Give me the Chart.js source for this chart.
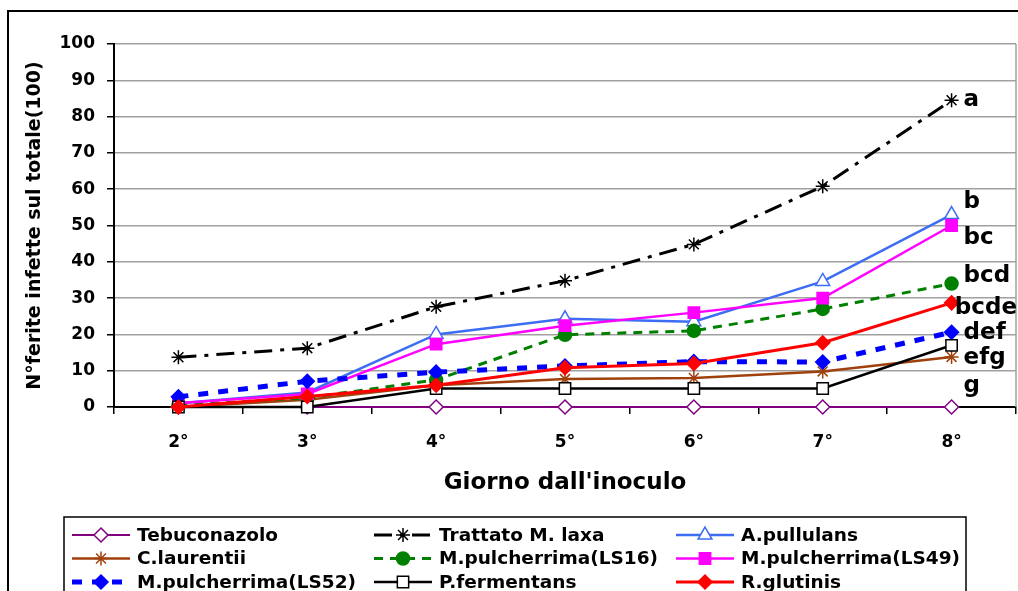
<!DOCTYPE html>
<html>
<head>
<meta charset="utf-8">
<script src="https://cdn.jsdelivr.net/npm/chart.js@4/dist/chart.umd.min.js"></script>
<style>
  html, body { margin: 0; padding: 0; background: #fff; }
  #wrap { width: 1018px; height: 591px; position: relative; }
</style>
</head>
<body>
<div id="wrap"><canvas id="myChart"></canvas></div>
<script>
// dati (giorni dopo l'inoculo)
var giorni = ['2°', '3°', '4°', '5°', '6°', '7°', '8°'];
var tebuconazolo = [0, 0, 0, 0, 0, 0, 0];
var trattatoLaxa = [13.7, 16.2, 27.6, 34.8, 44.8, 60.8, 84.5];
var aPullulans = [1, 4, 20, 24.3, 23.5, 34.6, 53];
var cLaurentii = [0, 2, 6, 7.7, 8, 9.8, 13.8];
var mpLS16 = [0.5, 2.5, 7.5, 19.9, 21, 27, 34];
var mpLS49 = [1, 3.6, 17.3, 22.4, 26, 30, 50];
var mpLS52 = [2.8, 7.1, 9.6, 11.3, 12.5, 12.4, 20.6];
var pFermentans = [0, 0, 5.1, 5.1, 5.1, 5.1, 17];
var rGlutinis = [0, 2.9, 6, 10.8, 12, 17.7, 28.7];

// lettere di significativita' e livello a cui stanno
var lettere = ['a', 'b', 'bc', 'bcd', 'bcde', 'def', 'efg', 'g'];
var livelliLettere = [84.5, 56.5, 46.5, 36.2, 27.3, 20.5, 13.5, 5.8];

var FONT = 'DejaVu Sans';

function serie(label, data, color, dash, width, style, radius, fill) {
  return {
    label: label,
    data: data,
    borderColor: color,
    backgroundColor: color,
    borderWidth: width,
    borderDash: dash,
    pointStyle: style,
    pointRadius: radius,
    pointHoverRadius: radius,
    pointBackgroundColor: fill,
    pointBorderColor: color,
    pointBorderWidth: 1.5,
    tension: 0,
    clip: false
  };
}

var datasets = [
  serie('Tebuconazolo', tebuconazolo, '#800080', [], 2, 'rectRot', 7, '#ffffff'),
  serie('Trattato M. laxa', trattatoLaxa, '#000000', [18, 8, 4, 8], 3, 'star', 7, '#000000'),
  serie('A.pullulans', aPullulans, '#3d6df2', [], 2.5, 'triangle', 8, '#ffffff'),
  serie('C.laurentii', cLaurentii, '#a0410d', [], 2.5, 'star', 7, '#a0410d'),
  serie('M.pulcherrima(LS16)', mpLS16, '#008000', [9, 7], 3, 'circle', 6.5, '#008000'),
  serie('M.pulcherrima(LS49)', mpLS49, '#ff00ff', [], 2.5, 'rect', 8, '#ff00ff'),
  serie('M.pulcherrima(LS52)', mpLS52, '#0000ff', [10, 10], 5, 'rectRot', 7, '#0000ff'),
  serie('P.fermentans', pFermentans, '#000000', [], 2.5, 'rect', 8, '#ffffff'),
  serie('R.glutinis', rGlutinis, '#ff0000', [], 3, 'rectRot', 7, '#ff0000')
];
// come in Excel: le ultime serie stanno sopra
datasets.forEach(function(d, i) { d.order = datasets.length - i; });

// cornice esterna e bordo destro dell'area del grafico
var cornice = {
  id: 'cornice',
  beforeDraw: function(chart) {
    var ctx = chart.ctx;
    ctx.save();
    ctx.fillStyle = '#ffffff';
    ctx.fillRect(0, 0, chart.width, chart.height);
    ctx.strokeStyle = '#000000';
    ctx.lineWidth = 2;
    ctx.strokeRect(8, 11, chart.width + 20, chart.height + 20);
    ctx.restore();
  },
  beforeDatasetsDraw: function(chart) {
    var a = chart.chartArea, ctx = chart.ctx;
    ctx.save();
    ctx.strokeStyle = '#a0a0a0';
    ctx.lineWidth = 1.5;
    ctx.beginPath();
    ctx.moveTo(a.right, a.top);
    ctx.lineTo(a.right, a.bottom);
    ctx.stroke();
    ctx.restore();
  }
};

// lettere a destra dell'ultimo punto
var lettereSig = {
  id: 'lettereSig',
  afterDatasetsDraw: function(chart) {
    var ctx = chart.ctx;
    var xs = chart.scales.x, ys = chart.scales.y;
    var x0 = xs.getPixelForValue(giorni.length - 1) + 12;
    ctx.save();
    ctx.font = 'bold 23px ' + FONT;
    ctx.fillStyle = '#000000';
    ctx.textBaseline = 'middle';
    lettere.forEach(function(t, i) {
      var w = ctx.measureText(t).width;
      var x = Math.min(x0, chart.width - w - 1);
      ctx.fillText(t, x, ys.getPixelForValue(livelliLettere[i]));
    });
    ctx.restore();
  }
};

// legenda su tre colonne in basso
var legenda = {
  id: 'legenda',
  afterDraw: function(chart) {
    var ctx = chart.ctx;
    var top = 517, left = 64;
    ctx.save();
    ctx.strokeStyle = '#000000';
    ctx.lineWidth = 1.5;
    ctx.strokeRect(left, top, 902, 120);
    ctx.font = 'bold 18.5px ' + FONT;
    ctx.textBaseline = 'middle';
    chart.data.datasets.forEach(function(d, i) {
      var col = i % 3, row = Math.floor(i / 3);
      var x = left + 8 + col * 302;
      var y = top + 18 + row * 23.5;
      ctx.save();
      ctx.strokeStyle = d.borderColor;
      ctx.lineWidth = d.borderWidth;
      ctx.setLineDash(d.borderDash);
      ctx.beginPath();
      ctx.moveTo(x, y);
      ctx.lineTo(x + 58, y);
      ctx.stroke();
      ctx.setLineDash([]);
      ctx.fillStyle = d.pointBackgroundColor;
      ctx.strokeStyle = d.pointBorderColor;
      ctx.lineWidth = d.pointBorderWidth;
      Chart.helpers.drawPoint(ctx, {
        pointStyle: d.pointStyle, radius: d.pointRadius, rotation: 0, borderWidth: d.pointBorderWidth
      }, x + 29, y);
      ctx.restore();
      ctx.fillStyle = '#000000';
      ctx.fillText(d.label, x + 65, y + 1);
    });
    ctx.restore();
  }
};

new Chart(document.getElementById('myChart'), {
  type: 'line',
  data: { labels: giorni, datasets: datasets },
  options: {
    responsive: true,
    maintainAspectRatio: false,
    devicePixelRatio: 1,
    animation: false,
    layout: { autoPadding: false, padding: { top: 44, right: 2, bottom: 84, left: 0 } },
    plugins: {
      legend: { display: false },
      tooltip: { enabled: false }
    },
    scales: {
      x: {
        type: 'category',
        offset: true,
        afterFit: function(scale) {
          scale.height = 100;
          scale.paddingLeft = 0;
          scale.paddingRight = 0;
        },
        grid: { offset: true, drawOnChartArea: false, drawTicks: true, tickLength: 7, tickColor: '#000000', lineWidth: 1.5 },
        border: { color: '#000000', width: 2 },
        ticks: { color: '#000000', padding: 18, font: { family: FONT, size: 17, weight: 'bold' } },
        title: {
          display: true,
          text: "Giorno dall'inoculo",
          color: '#000000',
          padding: { top: 0, bottom: 10 },
          font: { family: FONT, size: 23, weight: 'bold' }
        }
      },
      y: {
        min: 0,
        max: 100,
        afterFit: function(scale) { scale.width = 114; },
        ticks: { stepSize: 10, color: '#000000', padding: 12, font: { family: FONT, size: 17, weight: 'bold' } },
        grid: { color: '#a0a0a0', lineWidth: 1.5, tickLength: 7, tickColor: '#000000' },
        border: { color: '#000000', width: 2 },
        title: {
          display: true,
          text: 'N°ferite infette sul totale(100)',
          color: '#000000',
          padding: { top: 24, bottom: 0 },
          font: { family: FONT, size: 19, weight: 'bold' }
        }
      }
    }
  },
  plugins: [cornice, lettereSig, legenda]
});
</script>
</body>
</html>
